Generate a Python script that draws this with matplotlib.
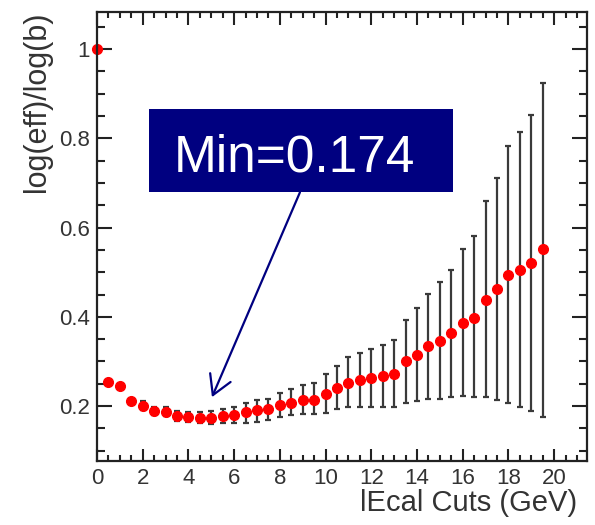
# Modules

import matplotlib
matplotlib.use("Agg")
import matplotlib.pyplot as plt
from matplotlib.patches import Rectangle
from matplotlib.ticker import MultipleLocator, FixedLocator
import numpy as np

# Data

cuts = [0.0, 0.5, 1.0, 1.5, 2.0, 2.5, 3.0, 3.5, 4.0, 4.5,
        5.0, 5.5, 6.0, 6.5, 7.0, 7.5, 8.0, 8.5, 9.0, 9.5,
        10.0, 10.5, 11.0, 11.5, 12.0, 12.5, 13.0, 13.5, 14.0, 14.5,
        15.0, 15.5, 16.0, 16.5, 17.0, 17.5, 18.0, 18.5, 19.0, 19.5]

ratio = [1.000, 0.253, 0.245, 0.211, 0.201, 0.189, 0.187, 0.178, 0.175, 0.174,
         0.174, 0.178, 0.180, 0.186, 0.191, 0.193, 0.202, 0.208, 0.213, 0.214,
         0.228, 0.241, 0.252, 0.258, 0.262, 0.268, 0.273, 0.300, 0.315, 0.335,
         0.346, 0.363, 0.386, 0.398, 0.438, 0.462, 0.494, 0.506, 0.521, 0.551]

err_hi = [1.000, 0.255, 0.247, 0.215, 0.211, 0.199, 0.197, 0.190, 0.186, 0.186,
          0.188, 0.193, 0.197, 0.206, 0.214, 0.217, 0.229, 0.238, 0.248, 0.252,
          0.271, 0.290, 0.311, 0.320, 0.327, 0.337, 0.348, 0.392, 0.419, 0.452,
          0.477, 0.506, 0.551, 0.581, 0.659, 0.710, 0.783, 0.814, 0.852, 0.923]

err_lo = [1.000, 0.251, 0.243, 0.207, 0.192, 0.179, 0.177, 0.166, 0.164, 0.162,
          0.160, 0.163, 0.163, 0.163, 0.165, 0.169, 0.176, 0.180, 0.182, 0.182,
          0.185, 0.193, 0.198, 0.199, 0.199, 0.199, 0.199, 0.208, 0.212, 0.217,
          0.217, 0.221, 0.222, 0.221, 0.221, 0.214, 0.208, 0.199, 0.189, 0.176]

y_ticks = [0.2, 0.4, 0.6, 0.8, 1.0]
y_tick_labels = ["0.2", "0.4", "0.6", "0.8", "1"]

min_text = "Min=0.174"

# Plot

plt.rcParams["font.family"] = ["Liberation Sans", "DejaVu Sans"]

fig = plt.figure(figsize=(5.95, 5.25), dpi=100)
ax = fig.add_axes([97 / 595, 1 - 461 / 525, 490 / 595, 449 / 525])

y = np.array(ratio)
yerr = [y - np.array(err_lo), np.array(err_hi) - y]

ax.errorbar(cuts, y, yerr=yerr, fmt="o", color="red", markersize=7,
            ecolor="#3a3a3a", elinewidth=1.6, capsize=2.5, capthick=1.6,
            clip_on=False, zorder=2)

ax.set_xlim(0, 21.44)
ax.set_ylim(0.077, 1.083)

ax.xaxis.set_major_locator(MultipleLocator(2))
ax.xaxis.set_minor_locator(MultipleLocator(0.5))
ax.yaxis.set_major_locator(FixedLocator(y_ticks))
ax.yaxis.set_minor_locator(MultipleLocator(0.05))
ax.set_yticklabels(y_tick_labels)

ax.tick_params(which="both", direction="in", top=True, right=True,
               colors="#222222", width=1.5, labelcolor="#333333",
               labelsize=16, pad=5)
ax.tick_params(axis="x", which="major", length=9)
ax.tick_params(axis="x", which="minor", length=4.5)
ax.tick_params(axis="y", which="major", length=11)
ax.tick_params(axis="y", which="minor", length=5.5)

for s in ax.spines.values():
    s.set_linewidth(1.6)
    s.set_color("#222222")

ax.set_xlabel("lEcal Cuts (GeV)", fontsize=21, color="#333333", loc="right")
ax.xaxis.set_label_coords(0.98, -0.062)
ax.set_ylabel("log(eff)/log(b)", fontsize=22, color="#333333", loc="top")
ax.yaxis.set_label_coords(-0.092, 1.0)

# Annotation box and arrow

ax.add_patch(Rectangle((2.28, 0.679), 13.3, 0.186, facecolor="#000080",
                       edgecolor="none", zorder=4))
ax.text(8.62, 0.7265, min_text, color="white", fontsize=37,
        ha="center", va="baseline", zorder=5)
ax.annotate("", xy=(5.03, 0.220), xytext=(8.88, 0.679),
            arrowprops=dict(arrowstyle="->, head_length=0.55, head_width=0.32",
                            color="#000080", lw=1.6, mutation_scale=25,
                            shrinkA=0, shrinkB=0),
            zorder=3)

fig.savefig("out.png", dpi=100)
